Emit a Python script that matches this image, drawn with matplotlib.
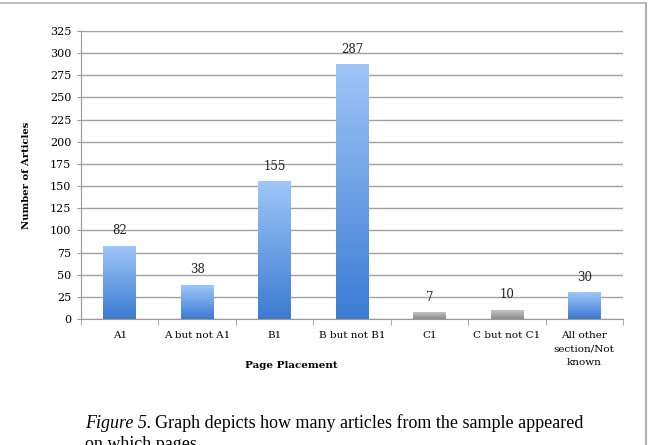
import numpy as np
import matplotlib
matplotlib.use('Agg')
from matplotlib import pyplot as plt
from matplotlib.colors import LinearSegmentedColormap
from matplotlib.lines import Line2D

categories = ['A1', 'A but not A1', 'B1', 'B but not B1', 'C1',
              'C but not C1', 'All other\nsection/Not\nknown']
counts = [82, 38, 155, 287, 7, 10, 30]
gray_bars = ['C1', 'C but not C1']
y_ticks = list(range(0, 326, 25))

blue = LinearSegmentedColormap.from_list('blue', ['#3b7bd3', '#9fc6f7'])
gray = LinearSegmentedColormap.from_list('gray', ['#8c8c8c', '#c4c4c4'])

fig = plt.figure(figsize=(6.53, 4.45), dpi=100)
ax = fig.add_axes([81 / 653, 1 - 319 / 445, 542 / 653, 288 / 445])

x = np.arange(len(categories))
width = 0.42
grad = np.linspace(0, 1, 256).reshape(-1, 1)
for xi, cat, val in zip(x, categories, counts):
    cmap = gray if cat in gray_bars else blue
    ax.imshow(grad, cmap=cmap, origin='lower', aspect='auto',
              extent=[xi - width / 2, xi + width / 2, 0, val], zorder=3)
    ax.text(xi, val + 10, str(val), ha='center', va='bottom',
            fontsize=8.5, family='DejaVu Serif', color='#222222')

ax.set_xlim(-0.5, len(categories) - 0.5)
ax.set_ylim(0, 325)
ax.set_yticks(y_ticks)
ax.set_yticklabels([str(t) for t in y_ticks], family='DejaVu Serif',
                   fontsize=8)
ax.set_xticks(x)
ax.set_xticklabels(categories, family='DejaVu Serif', fontsize=7.5,
                   linespacing=1.6)
ax.set_xticks(np.arange(-0.5, len(categories)), minor=True)
ax.tick_params(axis='x', which='major', length=0, pad=9)
ax.tick_params(axis='x', which='minor', length=4, color='#999999')
ax.tick_params(axis='y', length=3, color='#999999', pad=4)
ax.grid(axis='y', color='#a0a0a0', linewidth=1, zorder=0)
ax.set_axisbelow(True)
for side in ['top', 'right']:
    ax.spines[side].set_visible(False)
for side in ['left', 'bottom']:
    ax.spines[side].set_color('#999999')

ax.set_ylabel('Number of Articles', family='DejaVu Serif', fontsize=7.2,
              fontweight='bold')
ax.yaxis.set_label_coords((31 - 81) / 542, 0.5)
ax.set_xlabel('Page Placement', family='DejaVu Serif', fontsize=7.5,
              fontweight='bold')
ax.xaxis.set_label_coords((291 - 81) / 542, (319 - 365) / 288)
ax.xaxis.label.set_va('center')

# outer frame lines from the source document
fig.add_artist(Line2D([0, 646 / 653], [1 - 3 / 445, 1 - 3 / 445],
                      color='#b0b0b0', linewidth=1.2))
fig.add_artist(Line2D([646 / 653, 646 / 653], [1 - 3 / 445, 0],
                      color='#b0b0b0', linewidth=1.5))

cap_size = 13
t1 = fig.text(85 / 653, 1 - 428 / 445, 'Figure 5.', family='Liberation Serif',
              style='italic', fontsize=cap_size, va='baseline')
fig.canvas.draw()
bb = t1.get_window_extent()
fig.text(bb.x1 / 653 + 4 / 653, 1 - 428 / 445,
         'Graph depicts how many articles from the sample appeared',
         family='Liberation Serif', fontsize=cap_size, va='baseline')
fig.text(85 / 653, 1 - 449 / 445, 'on which pages.',
         family='Liberation Serif', fontsize=cap_size, va='baseline')

fig.savefig('out.png', dpi=100)
